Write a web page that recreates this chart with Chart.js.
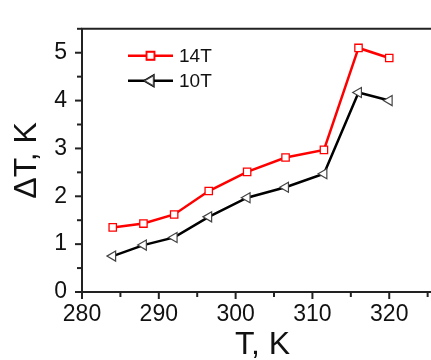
<!DOCTYPE html>
<html>
<head>
<meta charset="utf-8">
<script src="https://cdn.jsdelivr.net/npm/chart.js@4"></script>
<style>
  body { margin: 0; overflow: hidden; background: #fff; }
</style>
</head>
<body>
<canvas id="chart" width="450" height="360"></canvas>
<script>
const temps = [284, 288, 292, 296.5, 301.5, 306.5, 311.5, 316, 320];
const dT14 = [1.35, 1.43, 1.62, 2.11, 2.51, 2.81, 2.97, 5.1, 4.89];
const dT10 = [0.75, 0.98, 1.14, 1.57, 1.97, 2.19, 2.47, 4.17, 4.0];
const seriesNames = ['14T', '10T'];
const xTicks = [280, 290, 300, 310, 320];
const yTicks = [0, 1, 2, 3, 4, 5];

const font = 'Liberation Sans, Arial, sans-serif';

// minor/major ticks pointing out, top frame line, legend with line + marker
const framePlugin = {
    id: 'frame',
    afterDraw(chart) {
        const ctx = chart.ctx;
        const area = chart.chartArea;
        const xs = chart.scales.x;
        const ys = chart.scales.y;
        ctx.save();
        ctx.strokeStyle = '#222';
        ctx.lineWidth = 2;
        ctx.beginPath();
        ctx.moveTo(area.left - 1, area.top);
        ctx.lineTo(area.right, area.top);
        ctx.stroke();

        for (let v = 280; v <= 325; v += 5) {
            const px = xs.getPixelForValue(v);
            const len = v % 10 === 0 ? 7 : 5;
            ctx.beginPath();
            ctx.moveTo(px, area.bottom);
            ctx.lineTo(px, area.bottom + len);
            ctx.stroke();
        }
        for (let v = 0; v <= 5.5; v += 0.5) {
            const py = ys.getPixelForValue(v);
            const len = Number.isInteger(v) ? 7 : 5;
            ctx.beginPath();
            ctx.moveTo(area.left, py);
            ctx.lineTo(area.left - len, py);
            ctx.stroke();
        }

        // legend
        const sets = chart.data.datasets;
        sets.forEach((ds, i) => {
            const x0 = area.left + 46;
            const y0 = area.top + 27 + i * 25;
            ctx.strokeStyle = ds.borderColor;
            ctx.lineWidth = ds.borderWidth;
            ctx.beginPath();
            ctx.moveTo(x0, y0);
            ctx.lineTo(x0 + 45, y0);
            ctx.stroke();
            Chart.helpers.drawPoint(ctx, {
                pointStyle: ds.pointStyle,
                radius: ds.pointRadius,
                rotation: ds.pointRotation,
                borderWidth: ds.pointBorderWidth
            }, x0 + 22.5, y0);
            ctx.fillStyle = ds.pointBackgroundColor;
            ctx.strokeStyle = ds.pointBorderColor;
            ctx.lineWidth = ds.pointBorderWidth;
            ctx.fill();
            ctx.stroke();
            ctx.fillStyle = '#111';
            ctx.font = '19px ' + font;
            ctx.textBaseline = 'middle';
            ctx.fillText(ds.label, x0 + 51, y0 + 1);
        });
        ctx.restore();
    }
};

new Chart(document.getElementById('chart'), {
    type: 'line',
    data: {
        datasets: [
            {
                label: seriesNames[0],
                data: temps.map((t, i) => ({ x: t, y: dT14[i] })),
                borderColor: '#ff0000',
                borderWidth: 2.5,
                pointStyle: 'rect',
                pointRadius: 5.2,
                pointRotation: 0,
                pointBorderWidth: 1.3,
                pointBorderColor: '#ff0000',
                pointBackgroundColor: '#fff'
            },
            {
                label: seriesNames[1],
                data: temps.map((t, i) => ({ x: t, y: dT10[i] })),
                borderColor: '#000',
                borderWidth: 2.5,
                pointStyle: 'triangle',
                pointRadius: 5.8,
                pointRotation: -90,
                pointBorderWidth: 1.2,
                pointBorderColor: '#444',
                pointBackgroundColor: '#fff'
            }
        ]
    },
    options: {
        responsive: false,
        animation: false,
        layout: { padding: { top: 16, right: 0, left: 0, bottom: 0 } },
        plugins: { legend: { display: false }, tooltip: { enabled: false } },
        scales: {
            x: {
                type: 'linear',
                min: 280,
                max: 327,
                afterBuildTicks: s => { s.ticks = xTicks.map(v => ({ value: v })); },
                afterFit: s => { s.height = 68; },
                grid: { display: true, drawOnChartArea: false, drawTicks: false },
                border: { display: true, color: '#222', width: 2 },
                ticks: { color: '#111', font: { family: font, size: 23 }, padding: 9, maxRotation: 0 },
                title: { display: true, text: 'T, K', color: '#111', font: { family: font, size: 32 }, padding: { top: 0, bottom: -4 } }
            },
            y: {
                min: 0,
                max: 5.5,
                afterBuildTicks: s => { s.ticks = yTicks.map(v => ({ value: v })); },
                afterFit: s => { s.width = 82; },
                grid: { display: true, drawOnChartArea: false, drawTicks: false },
                border: { display: true, color: '#222', width: 2 },
                ticks: { color: '#111', font: { family: font, size: 23 }, padding: 15 },
                title: { display: true, text: 'ΔT, K', color: '#111', font: { family: font, size: 32 }, padding: { top: 8, bottom: 0 } }
            }
        }
    },
    plugins: [framePlugin]
});
</script>
</body>
</html>
